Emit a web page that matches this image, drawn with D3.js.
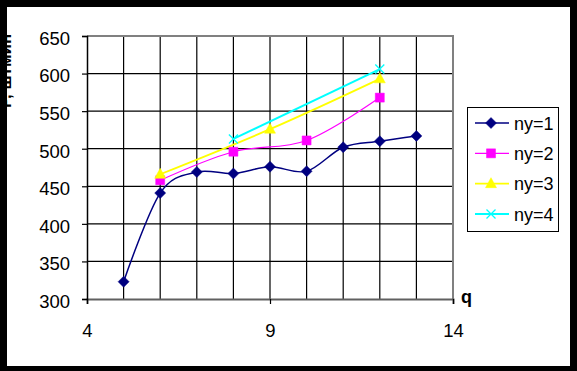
<!DOCTYPE html>
<html>
<head>
<meta charset="utf-8">
<script src="https://cdn.jsdelivr.net/npm/d3@7"></script>
<style>
  html, body { margin: 0; padding: 0; background: #000; }
  svg { display: block; }
</style>
</head>
<body>
<svg id="chart" width="577" height="371"></svg>
<script>
// data
const q1 = [5, 6, 7, 8, 9, 10, 11, 12, 13];
const ny1 = [323, 441, 469, 467, 476, 470, 502, 510, 517];
const q2 = [6, 8, 10, 12];
const ny2 = [458, 496, 511, 568];
const q3 = [6, 9, 12];
const ny3 = [466, 526, 593];
const q4 = [8, 12];
const ny4 = [513, 606];

const xTicks = [4, 9, 14];
const yTicks = [300, 350, 400, 450, 500, 550, 600, 650];
const seriesNames = ["ny=1", "ny=2", "ny=3", "ny=4"];
const seriesColors = ["#000080", "#ff00ff", "#ffff00", "#00ffff"];

const series = [
    { name: seriesNames[0], xs: q1, ys: ny1, color: seriesColors[0], marker: "diamond", w: 1.5 },
    { name: seriesNames[1], xs: q2, ys: ny2, color: seriesColors[1], marker: "square", w: 1.2 },
    { name: seriesNames[2], xs: q3, ys: ny3, color: seriesColors[2], marker: "triangle", w: 1.8 },
    { name: seriesNames[3], xs: q4, ys: ny4, color: seriesColors[3], marker: "cross", w: 2 }
];

const svg = d3.select("#chart");
const font = "'Liberation Sans', Arial, sans-serif";

// white card inside the black frame
svg.append("rect").attr("x", 0).attr("y", 0).attr("width", 577).attr("height", 371).attr("fill", "#000");
svg.append("rect").attr("x", 7).attr("y", 7).attr("width", 563).attr("height", 359).attr("fill", "#fff");

const x = d3.scaleLinear().domain([4, 14]).range([87, 453]);
const y = d3.scaleLinear().domain([300, 650]).range([299, 36]);

// grid
const grid = svg.append("g");
grid.selectAll("line.v")
    .data(d3.range(5, 14))
    .join("line")
    .attr("x1", d => x(d)).attr("x2", d => x(d))
    .attr("y1", y(650)).attr("y2", y(300))
    .attr("stroke", "#000").attr("stroke-width", 1.2);
grid.selectAll("line.h")
    .data(yTicks.slice(1, -1))
    .join("line")
    .attr("x1", x(4)).attr("x2", x(14))
    .attr("y1", d => y(d)).attr("y2", d => y(d))
    .attr("stroke", "#000").attr("stroke-width", 1.2);

// plot border (gray)
svg.append("path")
    .attr("d", `M${x(4)},${y(650)}H${x(14)}V${y(300)}`)
    .attr("fill", "none").attr("stroke", "#808080").attr("stroke-width", 2);

// axes
const xAxis = svg.append("g")
    .attr("transform", `translate(0,${y(300)})`)
    .call(d3.axisBottom(x).tickValues(xTicks).tickSize(5).tickPadding(20).tickFormat(d3.format("d")));
const yAxis = svg.append("g")
    .attr("transform", `translate(${x(4)},0)`)
    .call(d3.axisLeft(y).tickValues(yTicks).tickSize(5).tickPadding(12).tickFormat(d3.format("d")));

[xAxis, yAxis].forEach(a => {
    a.select(".domain").attr("stroke", "#000").attr("stroke-width", 1.5);
    a.selectAll(".tick line").attr("stroke", "#000").attr("stroke-width", 1.2);
    a.selectAll("text").attr("font-family", font).attr("font-size", 18.5).attr("fill", "#000");
});
yAxis.selectAll("text").attr("dy", "0.45em");
xAxis.select(".domain").attr("stroke", "#606060").attr("stroke-width", 2);

// axis titles
svg.append("text")
    .attr("x", 461).attr("y", 303)
    .attr("font-family", font).attr("font-size", 18).attr("font-weight", "bold")
    .text("q");
svg.append("text")
    .attr("transform", "translate(11,108) rotate(-90)")
    .attr("font-family", font).attr("font-size", 17).attr("font-weight", "bold")
    .text("Р, штмин");
// keep the title clipped by the black frame
svg.append("rect").attr("x", 0).attr("y", 0).attr("width", 7).attr("height", 371).attr("fill", "#000");

// lines
const line = d3.line().curve(d3.curveCardinal.tension(0));
const plot = svg.append("g");
plot.selectAll("path.series")
    .data(series)
    .join("path")
    .attr("class", "series")
    .attr("fill", "none")
    .attr("stroke", d => d.color)
    .attr("stroke-width", d => d.w)
    .attr("d", d => line(d.xs.map((v, i) => [x(v), y(d.ys[i])])));

function markerPath(type) {
    if (type === "diamond") return "M0,-5.5L5.5,0L0,5.5L-5.5,0Z";
    if (type === "square") return "M-4.5,-4.5H4.5V4.5H-4.5Z";
    if (type === "triangle") return "M0,-6L5.5,4L-5.5,4Z";
    return "M-4.5,-4.5L4.5,4.5M4.5,-4.5L-4.5,4.5";
}

function drawMarker(g, s) {
    const cross = s.marker === "cross";
    g.append("path")
        .attr("d", markerPath(s.marker))
        .attr("fill", cross ? "none" : s.color)
        .attr("stroke", s.color)
        .attr("stroke-width", cross ? 1.3 : 0.5);
}

series.forEach(s => {
    s.xs.forEach((v, i) => {
        const g = plot.append("g").attr("transform", `translate(${x(v)},${y(s.ys[i])})`);
        drawMarker(g, s);
    });
});

// legend
const legend = svg.append("g");
legend.append("rect")
    .attr("x", 467.5).attr("y", 107.5).attr("width", 91).attr("height", 124)
    .attr("fill", "#fff").attr("stroke", "#000").attr("stroke-width", 1);
const ly = d3.scalePoint().domain(seriesNames).range([123, 214]);
series.forEach(s => {
    const g = legend.append("g").attr("transform", `translate(0,${ly(s.name)})`);
    g.append("line").attr("x1", 475).attr("x2", 509).attr("y1", 0).attr("y2", 0)
        .attr("stroke", s.color).attr("stroke-width", s.w);
    drawMarker(g.append("g").attr("transform", "translate(491,0)"), s);
    g.append("text").attr("x", 514).attr("y", 6.5)
        .attr("font-family", font).attr("font-size", 18).attr("fill", "#000")
        .text(s.name);
});
</script>
</body>
</html>
